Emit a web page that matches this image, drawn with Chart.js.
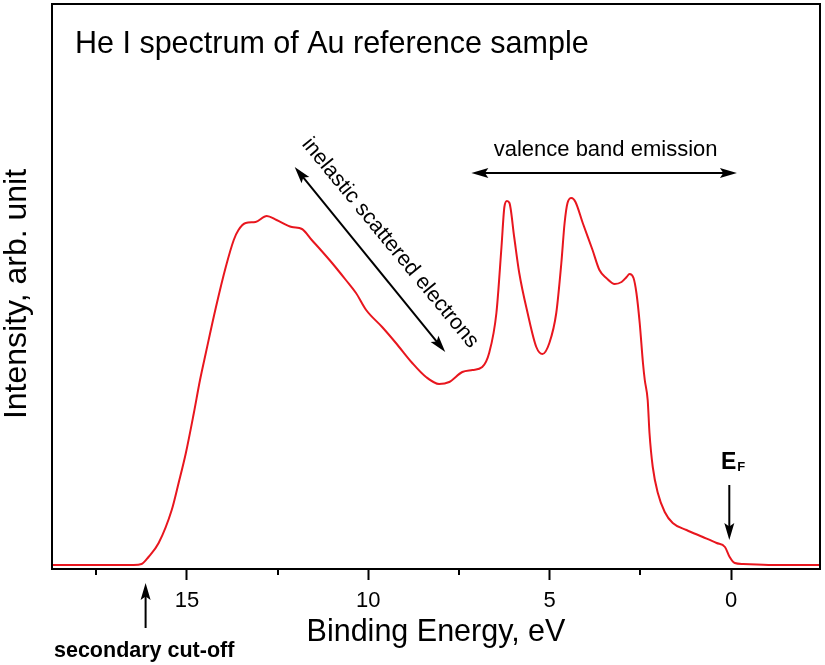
<!DOCTYPE html>
<html>
<head>
<meta charset="utf-8">
<script src="https://cdn.jsdelivr.net/npm/chart.js@4/dist/chart.umd.min.js"></script>
<style>
  html, body { margin: 0; padding: 0; background: #fff; }
  #wrap { width: 825px; height: 665px; }
</style>
</head>
<body>
<div id="wrap"><canvas id="c" width="825" height="665"></canvas></div>
<script>
// ---- data (binding energy in eV, intensity in arbitrary units) ----
const energy = [18.72, 17.44, 16.47, 16.25, 16.06, 15.78, 15.42, 15.23, 15.03, 14.81, 14.64, 14.48, 14.20, 13.93, 13.71, 13.58, 13.38, 13.11, 12.80, 12.53, 12.11, 11.83, 11.56, 11.36, 11.00, 10.62, 10.34, 10.06, 9.62, 9.24, 8.79, 8.41, 8.05, 7.77, 7.41, 7.13, 6.86, 6.67, 6.47, 6.33, 6.25, 6.18, 6.11, 5.98, 5.84, 5.61, 5.37, 5.20, 5.01, 4.82, 4.68, 4.59, 4.51, 4.40, 4.29, 4.09, 3.82, 3.63, 3.44, 3.21, 3.02, 2.88, 2.80, 2.69, 2.61, 2.52, 2.43, 2.38, 2.30, 2.25, 2.16, 2.02, 1.83, 1.61, 1.23, 0.78, 0.40, 0.17, 0.04, -0.10, -0.33, -1.15, -2.45];
const intensity = [4, 4, 4, 5, 12, 26, 59, 86, 116, 156, 189, 216, 262, 302, 329, 339, 346, 347, 353, 349, 342, 340, 329, 321, 306, 289, 276, 259, 242, 226, 206, 192, 185, 187, 197, 199, 202, 216, 256, 322, 362, 368, 366, 332, 296, 256, 222, 215, 226, 256, 306, 346, 366, 371, 367, 346, 319, 299, 291, 285, 287, 292, 295, 291, 276, 246, 206, 189, 169, 136, 102, 76, 57, 46, 39, 32, 26, 22, 12, 6, 5, 4, 4];
const majorTicks = [15, 10, 5, 0];
const minorTicks = [17.5, 12.5, 7.5, 2.5];
const xRange = [-2.45, 18.72];
const yRange = [0, 565];

const titleText = 'He I spectrum of Au reference sample';
const xTitle = 'Binding Energy, eV';
const yTitle = 'Intensity, arb. unit';

const FONT = "'Liberation Sans', Arial, Helvetica, sans-serif";

const points = energy.map((e, i) => ({ x: e, y: intensity[i] }));

function arrowHead(ctx, x1, y1, x2, y2, len, hw) {
  const a = Math.atan2(y2 - y1, x2 - x1);
  ctx.beginPath();
  ctx.moveTo(x2, y2);
  ctx.lineTo(x2 - len * Math.cos(a) + hw * Math.sin(a), y2 - len * Math.sin(a) - hw * Math.cos(a));
  ctx.lineTo(x2 - len * 0.8 * Math.cos(a), y2 - len * 0.8 * Math.sin(a));
  ctx.lineTo(x2 - len * Math.cos(a) - hw * Math.sin(a), y2 - len * Math.sin(a) + hw * Math.cos(a));
  ctx.closePath();
  ctx.fill();
}
function arrow(ctx, x1, y1, x2, y2, both) {
  const a = Math.atan2(y2 - y1, x2 - x1);
  const len = 17;
  ctx.beginPath();
  ctx.moveTo(both ? x1 + len * 0.7 * Math.cos(a) : x1, both ? y1 + len * 0.7 * Math.sin(a) : y1);
  ctx.lineTo(x2 - len * 0.7 * Math.cos(a), y2 - len * 0.7 * Math.sin(a));
  ctx.stroke();
  arrowHead(ctx, x1, y1, x2, y2, len, 5);
  if (both) arrowHead(ctx, x2, y2, x1, y1, len, 5);
}

const annot = {
  id: 'annot',
  afterDraw(chart) {
    const { ctx, chartArea: ca, scales: { x, y } } = chart;
    ctx.save();
    ctx.strokeStyle = '#000';
    ctx.fillStyle = '#000';
    ctx.lineWidth = 2;
    // frame
    ctx.strokeRect(ca.left, ca.top, ca.right - ca.left, ca.bottom - ca.top);
    // minor ticks
    minorTicks.forEach(v => {
      const px = Math.round(x.getPixelForValue(v));
      ctx.beginPath();
      ctx.moveTo(px, ca.bottom);
      ctx.lineTo(px, ca.bottom + 6);
      ctx.stroke();
    });
    // title
    ctx.font = '30.5px ' + FONT;
    ctx.textAlign = 'left';
    ctx.textBaseline = 'alphabetic';
    ctx.fillText(titleText, ca.left + 23, ca.top + 49);

    // y axis title
    ctx.save();
    ctx.translate(17, y.getPixelForValue(275));
    ctx.rotate(-Math.PI / 2);
    ctx.font = '32px ' + FONT;
    ctx.textAlign = 'center';
    ctx.textBaseline = 'middle';
    ctx.fillText(yTitle, 0, 0);
    ctx.restore();

    // valence band emission
    ctx.lineWidth = 2;
    const vy = y.getPixelForValue(396);
    arrow(ctx, x.getPixelForValue(7.16), vy, x.getPixelForValue(-0.16), vy, true);
    ctx.font = '22px ' + FONT;
    ctx.textAlign = 'center';
    ctx.textBaseline = 'middle';
    ctx.fillText('valence band emission', x.getPixelForValue(3.46), y.getPixelForValue(419));

    // inelastic scattered electrons
    arrow(ctx, x.getPixelForValue(12.03), y.getPixelForValue(402), x.getPixelForValue(7.88), y.getPixelForValue(217), true);
    ctx.save();
    ctx.translate(x.getPixelForValue(9.40), y.getPixelForValue(326));
    ctx.rotate(50.5 * Math.PI / 180);
    ctx.font = '21.5px ' + FONT;
    ctx.fillText('inelastic scattered electrons', 0, 0);
    ctx.restore();

    // Fermi edge
    const fx = x.getPixelForValue(0.05);
    arrow(ctx, fx, y.getPixelForValue(84), fx, y.getPixelForValue(29), false);
    ctx.font = 'bold 23px ' + FONT;
    ctx.textAlign = 'right';
    ctx.textBaseline = 'alphabetic';
    ctx.fillText('E', fx + 7, y.getPixelForValue(100));
    ctx.font = 'bold 13px ' + FONT;
    ctx.textAlign = 'left';
    ctx.fillText('F', fx + 8, y.getPixelForValue(98));

    // secondary cut-off
    const sx = x.getPixelForValue(16.14);
    arrow(ctx, sx, ca.bottom + 59, sx, ca.bottom + 14, false);
    ctx.font = 'bold 21.5px ' + FONT;
    ctx.textAlign = 'left';
    ctx.fillText('secondary cut-off', 54, ca.bottom + 88);
    ctx.restore();
  }
};

new Chart(document.getElementById('c'), {
  type: 'line',
  data: {
    datasets: [{
      data: points,
      borderColor: 'rgb(232, 22, 30)',
      borderWidth: 2,
      pointRadius: 0,
      fill: false,
      cubicInterpolationMode: 'monotone'
    }]
  },
  options: {
    responsive: false,
    animation: false,
    layout: { padding: { top: 4, right: 5, left: 0, bottom: 0 } },
    plugins: { legend: { display: false }, tooltip: { enabled: false } },
    scales: {
      x: {
        type: 'linear',
        reverse: true,
        min: xRange[0],
        max: xRange[1],
        afterFit(s) { s.height = 96; },
        afterBuildTicks(s) { s.ticks = majorTicks.map(v => ({ value: v })); },
        ticks: {
          autoSkip: false, maxRotation: 0, minRotation: 0, padding: 8, color: '#000',
          font: { size: 22, family: FONT },
          callback: v => String(v)
        },
        grid: { drawOnChartArea: false, drawTicks: true, tickLength: 11, tickWidth: 2, tickColor: '#000' },
        border: { display: true, color: '#000', width: 2 },
        title: { display: true, text: xTitle, color: '#000', font: { size: 30.5, family: FONT }, padding: { top: 0, bottom: 14 } }
      },
      y: {
        type: 'linear',
        min: yRange[0],
        max: yRange[1],
        afterFit(s) { s.width = 52; },
        ticks: { display: false },
        grid: { display: false, drawTicks: false },
        border: { display: true, color: '#000', width: 2 },
        title: { display: false, text: yTitle }
      }
    }
  },
  plugins: [annot]
});
</script>
</body>
</html>
